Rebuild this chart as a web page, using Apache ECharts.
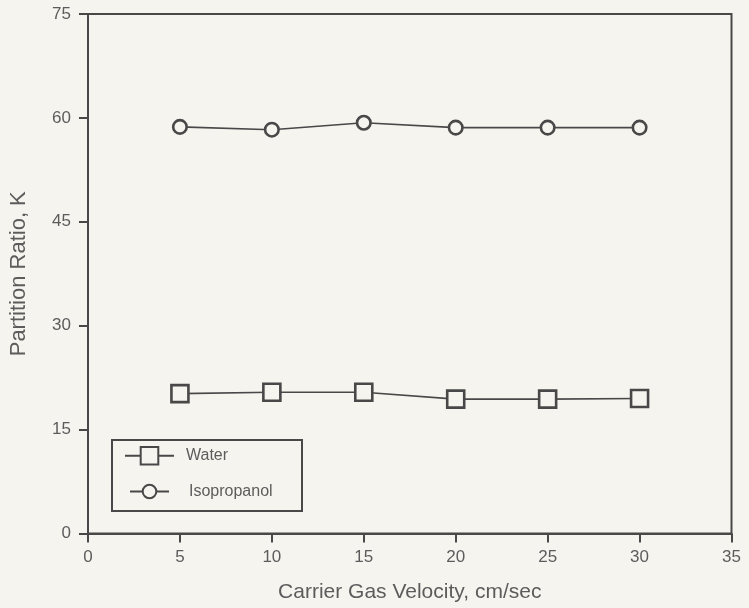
<!DOCTYPE html>
<html>
<head>
<meta charset="utf-8">
<script src="https://cdn.jsdelivr.net/npm/echarts@6/dist/echarts.min.js"></script>
<style>
  html, body { margin: 0; padding: 0; background: #f6f4ef; }
  #chart { width: 749px; height: 608px; }
</style>
</head>
<body>
<div id="chart"></div>
<script>
// Carrier gas velocity (cm/sec)
const velocity = [5, 10, 15, 20, 25, 30];
// Partition ratio K for each solute
const water = [20.2, 20.4, 20.4, 19.4, 19.4, 19.5];
const isopropanol = [58.7, 58.3, 59.3, 58.6, 58.6, 58.6];

const xTicks = { min: 0, max: 35, interval: 5 };
const yTicks = { min: 0, max: 75, interval: 15 };

const paper = '#f6f4ef';
const ink = '#484848';
const textInk = '#5c5c5c';
const font = 'Liberation Sans, Arial, sans-serif';

const pairs = ys => velocity.map((v, i) => [v, ys[i]]);

const axisCommon = {
  type: 'value',
  axisLine: { lineStyle: { color: ink, width: 2 } },
  axisTick: { show: true, inside: false, length: 9, lineStyle: { color: ink, width: 2 } },
  splitLine: { show: false }
};

const chart = echarts.init(document.getElementById('chart'));
chart.setOption({
  backgroundColor: paper,
  animation: false,
  grid: {
    left: 85, top: 14, right: 17.5, bottom: 74.5,
    show: true, borderColor: ink, borderWidth: 2, backgroundColor: 'transparent'
  },
  xAxis: Object.assign({}, axisCommon, {
    min: xTicks.min, max: xTicks.max, interval: xTicks.interval,
    name: 'Carrier Gas Velocity, cm/sec', nameLocation: 'middle', nameGap: 48,
    nameTextStyle: { color: textInk, fontSize: 21, fontFamily: font },
    axisLabel: { color: textInk, fontSize: 17, fontFamily: font, margin: 15 }
  }),
  yAxis: Object.assign({}, axisCommon, {
    min: yTicks.min, max: yTicks.max, interval: yTicks.interval,
    name: 'Partition Ratio, K', nameLocation: 'middle', nameGap: 58, nameRotate: 90,
    nameTextStyle: { color: textInk, fontSize: 22, fontFamily: font },
    axisLabel: { color: textInk, fontSize: 17, fontFamily: font, margin: 17 }
  }),
  // frame around the key
  graphic: [{
    type: 'rect', z: 5,
    shape: { x: 112, y: 440, width: 190, height: 71 },
    style: { fill: 'none', stroke: ink, lineWidth: 2 }
  }],
  legend: [
    {
      data: ['Water'], left: 124, top: 446, padding: 0,
      itemWidth: 49, itemHeight: 22,
      textStyle: { color: textInk, fontSize: 16, fontFamily: font, padding: [0, 0, 0, 7] }
    },
    {
      data: ['Isopropanol'], left: 129, top: 483.5, padding: 0,
      itemWidth: 39, itemHeight: 17,
      textStyle: { color: textInk, fontSize: 16, fontFamily: font, padding: [0, 0, 0, 15] }
    }
  ],
  series: [
    {
      name: 'Water', type: 'line', data: pairs(water),
      symbol: 'rect', symbolSize: 17,
      lineStyle: { color: ink, width: 1.6 },
      itemStyle: { color: paper, borderColor: ink, borderWidth: 2.6 }
    },
    {
      name: 'Isopropanol', type: 'line', data: pairs(isopropanol),
      symbol: 'circle', symbolSize: 13.5,
      lineStyle: { color: ink, width: 1.6 },
      itemStyle: { color: paper, borderColor: ink, borderWidth: 2.6 }
    }
  ]
});
</script>
</body>
</html>
